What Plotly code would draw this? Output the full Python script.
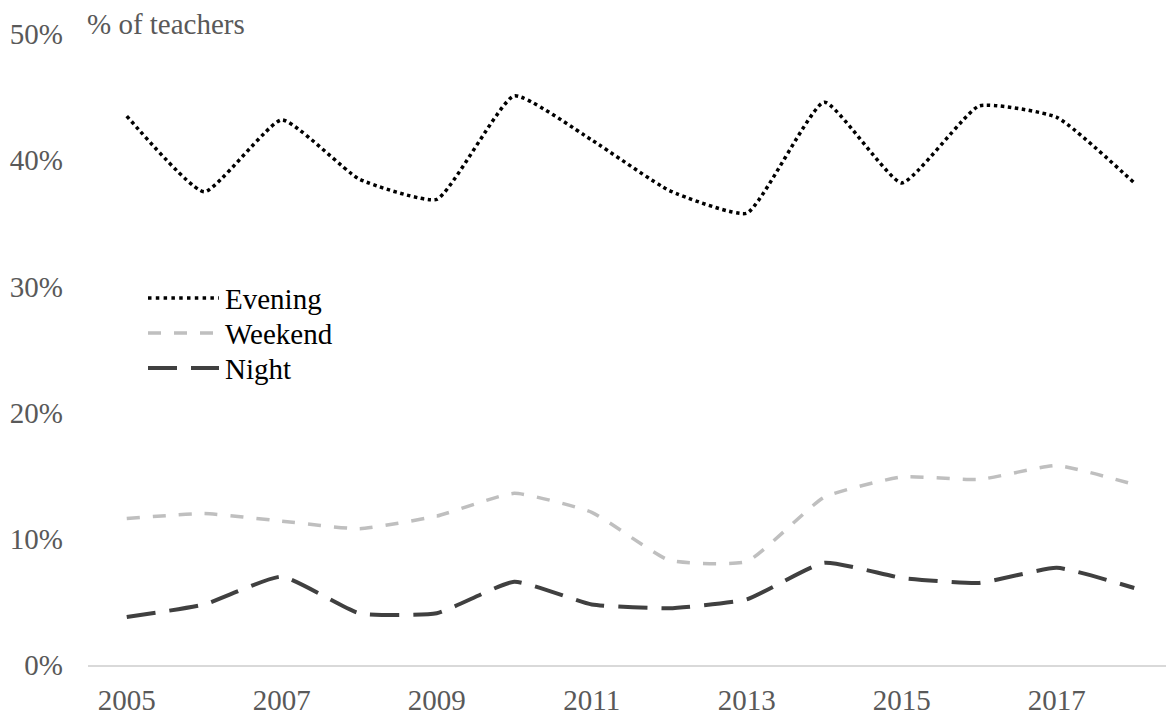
import plotly.graph_objects as go

# ---- data ----
years = list(range(2005, 2019))
evening = [43.5, 37.5, 43.2, 38.5, 36.9, 45.1, 41.6, 37.6, 35.8, 44.6, 38.2, 44.3, 43.4, 38.2]
weekend = [11.6, 12.0, 11.4, 10.8, 11.8, 13.6, 12.1, 8.3, 8.2, 13.3, 14.9, 14.7, 15.8, 14.3]
night = [3.8, 4.8, 7.0, 4.1, 4.1, 6.6, 4.8, 4.5, 5.2, 8.1, 6.9, 6.5, 7.7, 6.1]
series_names = ["Evening", "Weekend", "Night"]
x_tick_years = [2005, 2007, 2009, 2011, 2013, 2015, 2017]
y_tick_values = [0, 10, 20, 30, 40, 50]
y_axis_title = "% of teachers"

# ---- layout geometry (pixels) ----
W, H = 1168, 715
L, R, T, B = 88, 2, 34, 50
PW, PH = W - L - R, H - T - B
YEAR_PX = 77.5

FONT = "Liberation Serif, Times New Roman, serif"
FS = 29
GREY_TEXT = "#595959"

styles = {
    "Evening": dict(color="#000000", width=3.5, dash="dot"),
    "Weekend": dict(color="#BFBFBF", width=3.5, dash="13px,13px"),
    "Night": dict(color="#404040", width=4, dash="29px,14px"),
}
values = {"Evening": evening, "Weekend": weekend, "Night": night}


def px_x(px):
    return (px - L) / PW


def px_y(py):
    return (H - B - py) / PH


fig = go.Figure()
for name in series_names:
    fig.add_trace(go.Scatter(
        x=years, y=values[name], mode="lines", name=name,
        line=dict(shape="spline", smoothing=0.45, **styles[name]),
        showlegend=False, hoverinfo="skip",
    ))

# custom legend
shapes = []
annotations = []
legend_rows = [298, 333, 368]
for name, row in zip(series_names, legend_rows):
    st = styles[name]
    shapes.append(dict(
        type="line", xref="paper", yref="paper",
        x0=px_x(148), x1=px_x(219), y0=px_y(row), y1=px_y(row),
        line=dict(color=st["color"], width=st["width"],
                  dash="3.5px,4.3px" if name == "Evening" else st["dash"]),
    ))
    annotations.append(dict(
        xref="paper", yref="paper", x=px_x(223), y=px_y(row + 1),
        xanchor="left", yanchor="middle", text=name, showarrow=False,
        font=dict(family=FONT, size=FS, color="#000000"),
    ))

annotations.append(dict(
    xref="paper", yref="paper", x=px_x(85), y=px_y(24),
    xanchor="left", yanchor="middle", text=y_axis_title, showarrow=False,
    font=dict(family=FONT, size=FS, color=GREY_TEXT),
))

x0 = years[0] - 0.5
fig.update_layout(
    width=W, height=H,
    margin=dict(l=L, r=R, t=T, b=B, pad=0),
    paper_bgcolor="white", plot_bgcolor="white",
    font=dict(family=FONT, size=FS, color=GREY_TEXT),
    shapes=shapes, annotations=annotations,
    xaxis=dict(
        range=[x0, x0 + PW / YEAR_PX], tickmode="array", tickvals=x_tick_years,
        ticktext=[str(v) for v in x_tick_years],
        showgrid=False, zeroline=False, showline=True,
        linecolor="#D9D9D9", linewidth=1.5, ticks="",
        tickfont=dict(family=FONT, size=FS, color=GREY_TEXT),
        ticklabelstandoff=8, automargin=False,
    ),
    yaxis=dict(
        range=[0, 50], tickmode="array", tickvals=y_tick_values,
        ticktext=[f"{v}%" for v in y_tick_values],
        showgrid=False, zeroline=False, showline=False, ticks="",
        tickfont=dict(family=FONT, size=FS, color=GREY_TEXT),
        ticklabelstandoff=24, automargin=False,
    ),
)

fig.write_html(
    "out.html",
    config={"displayModeBar": False},
    post_script="document.body.style.margin='0';document.body.style.padding='0';",
)
